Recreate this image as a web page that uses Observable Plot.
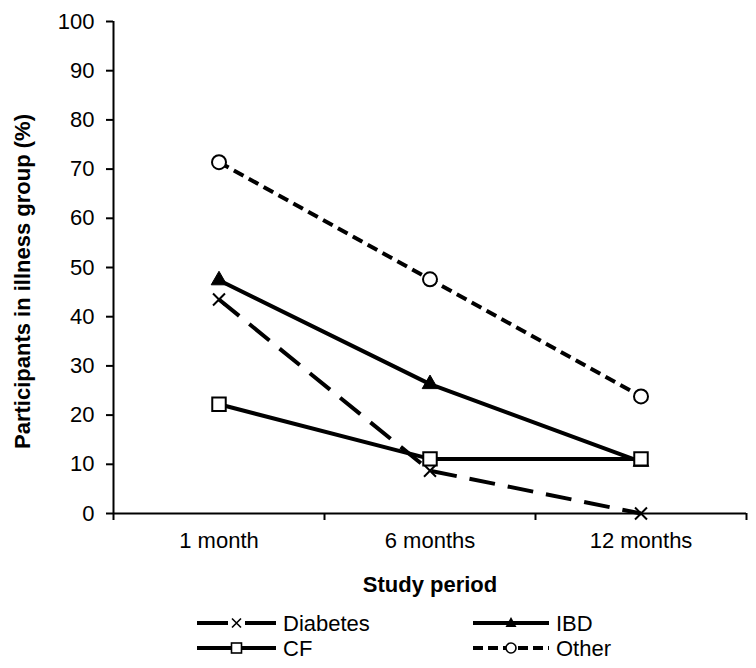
<!DOCTYPE html>
<html>
<head>
<meta charset="utf-8">
<script src="https://cdn.jsdelivr.net/npm/d3@7"></script>
<script src="https://cdn.jsdelivr.net/npm/@observablehq/plot@0.6"></script>
<style>
  html, body { margin: 0; padding: 0; background: white; }
  #chart { width: 756px; }
  svg { display: block; }
</style>
</head>
<body>
<div id="chart"></div>
<script>
// ---- data ----
const categories = ["1 month", "6 months", "12 months"];
const diabetes = [43.5, 8.7, 0];
const ibd = [47.4, 26.3, 10.5];
const cf = [22.2, 11.1, 11.1];
const other = [71.4, 47.6, 23.8];
const yTicks = [0, 10, 20, 30, 40, 50, 60, 70, 80, 90, 100];
const xLabel = "Study period";
const yLabel = "Participants in illness group (%)";
const legendNames = ["Diabetes", "IBD", "CF", "Other"];

const FONT = "'Liberation Sans', Arial, Helvetica, sans-serif";

const rows = (vals) => vals.map((v, i) => ({cat: categories[i], x: i + 0.5, y: v}));
const dDiab = rows(diabetes), dIbd = rows(ibd), dCf = rows(cf), dOther = rows(other);

const chart = Plot.plot({
  width: 756,
  height: 600,
  marginLeft: 113,
  marginRight: 10,
  marginTop: 21,
  marginBottom: 87,
  style: {fontFamily: FONT, fontSize: "22px", color: "black", background: "white"},
  x: {domain: [0, 3]},
  y: {domain: [0, 100]},
  marks: [
    Plot.axisY({ticks: yTicks, tickSize: 7, tickPadding: 12, strokeWidth: 2, label: null}),
    Plot.axisX({ticks: [0, 1, 2, 3], tickSize: 7, strokeWidth: 2, tickFormat: () => "", label: null}),
    Plot.axisX({ticks: [0.5, 1.5, 2.5], tickSize: 0, tickPadding: 19,
                tickFormat: d => categories[Math.floor(d)], label: null}),
    Plot.ruleX([0], {strokeWidth: 2}),
    Plot.ruleY([0], {strokeWidth: 2}),

    Plot.line(dDiab, {x: "x", y: "y", stroke: "black", strokeWidth: 4, strokeDasharray: "26,13", strokeLinecap: "butt"}),
    Plot.dot(dDiab, {x: "x", y: "y", symbol: "times", r: 5.5, stroke: "black", strokeWidth: 2}),

    Plot.line(dIbd, {x: "x", y: "y", stroke: "black", strokeWidth: 4}),
    Plot.dot(dIbd, {x: "x", y: "y", symbol: "triangle", r: 5.8, fill: "black", stroke: "black", strokeWidth: 1}),

    Plot.line(dCf, {x: "x", y: "y", stroke: "black", strokeWidth: 4}),
    Plot.dot(dCf, {x: "x", y: "y", symbol: "square", r: 7.6, fill: "white", stroke: "black", strokeWidth: 2}),

    Plot.line(dOther, {x: "x", y: "y", stroke: "black", strokeWidth: 4, strokeDasharray: "11,6", strokeLinecap: "butt"}),
    Plot.dot(dOther, {x: "x", y: "y", symbol: "circle", r: 7, fill: "white", stroke: "black", strokeWidth: 2}),

    Plot.text([xLabel], {frameAnchor: "bottom", lineAnchor: "top", dy: 63, fontWeight: "bold", fontSize: 22}),
    Plot.text([yLabel], {frameAnchor: "left", textAnchor: "middle", lineAnchor: "middle", rotate: -90,
                         dx: -91, dy: 14, fontWeight: "bold", fontSize: 22})
  ]
});
document.getElementById("chart").appendChild(chart);

// ---- legend (below the SVG) ----
const leg = d3.create("svg").attr("width", 756).attr("height", 68)
  .style("font-family", FONT).style("font-size", "22px");
const items = [
  {name: legendNames[0], x0: 197, x1: 276, cy: 23, dash: "31,17", sym: "times"},
  {name: legendNames[1], x0: 473, x1: 549, cy: 23, dash: null, sym: "triangle"},
  {name: legendNames[2], x0: 197, x1: 276, cy: 48, dash: null, sym: "square"},
  {name: legendNames[3], x0: 473, x1: 549, cy: 48, dash: "10,5", sym: "circle"}
];
for (const it of items) {
  const g = leg.append("g");
  const ln = g.append("line").attr("x1", it.x0).attr("x2", it.x1).attr("y1", it.cy).attr("y2", it.cy)
    .attr("stroke", "black").attr("stroke-width", 4);
  if (it.dash) ln.attr("stroke-dasharray", it.dash);
  const cx = (it.x0 + it.x1) / 2;
  if (it.sym === "times") {
    g.append("path").attr("d", `M${cx-4.5},${it.cy-4.5}L${cx+4.5},${it.cy+4.5}M${cx-4.5},${it.cy+4.5}L${cx+4.5},${it.cy-4.5}`)
      .attr("stroke", "black").attr("stroke-width", 1.6).attr("fill", "none");
  } else if (it.sym === "triangle") {
    g.append("path").attr("d", `M${cx},${it.cy-6}L${cx+5.5},${it.cy+4}L${cx-5.5},${it.cy+4}Z`).attr("fill", "black");
  } else if (it.sym === "square") {
    g.append("rect").attr("x", cx - 5).attr("y", it.cy - 5).attr("width", 10).attr("height", 10)
      .attr("fill", "white").attr("stroke", "black").attr("stroke-width", 1.6);
  } else if (it.sym === "circle") {
    g.append("circle").attr("cx", cx).attr("cy", it.cy).attr("r", 5)
      .attr("fill", "white").attr("stroke", "black").attr("stroke-width", 1.6);
  }
  g.append("text").attr("x", it.x1 + 7).attr("y", it.cy).attr("dy", "0.36em").attr("fill", "black").text(it.name);
}
document.getElementById("chart").appendChild(leg.node());
</script>
</body>
</html>
